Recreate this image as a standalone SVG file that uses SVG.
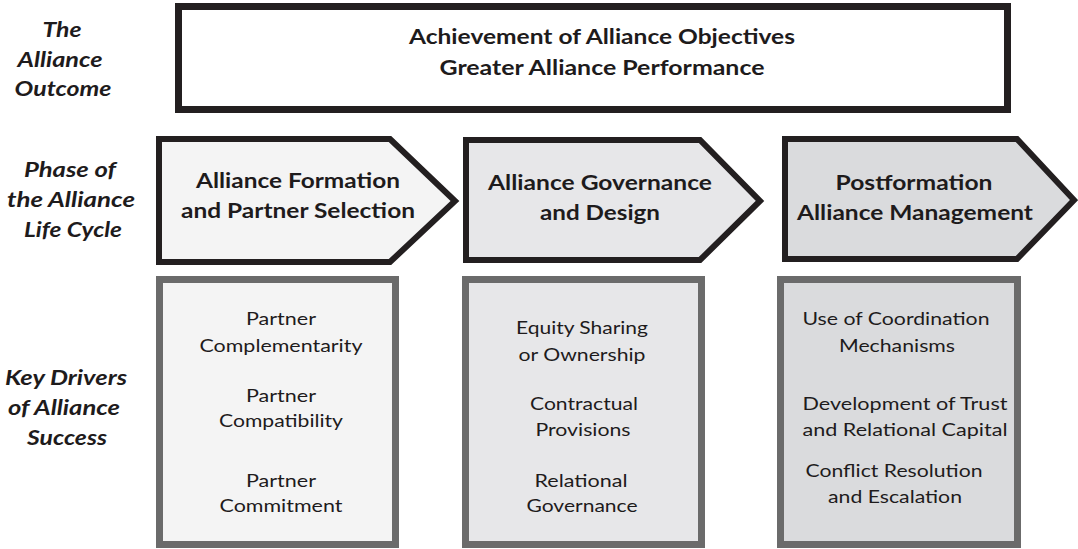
<svg xmlns="http://www.w3.org/2000/svg" width="1078" height="549" viewBox="0 0 1078 549">
<style>
text{font-family:Lato,"Open Sans","Liberation Sans",sans-serif;fill:#1e1b1c;text-anchor:middle}
.lab{font-size:20px;font-weight:bold;font-style:italic}
.head{font-size:20px;font-weight:bold}
.item{font-size:18px}
.outcome{fill:#ffffff;stroke:#231f20;stroke-width:7}
.chev{stroke:#231f20;stroke-width:6;stroke-linejoin:miter}
.drv{stroke:#6b6b6b;stroke-width:7}
</style>
<rect width="1078" height="549" fill="#ffffff"/>
<g id="labels">
<text class="lab" x="62" y="37" textLength="39" lengthAdjust="spacingAndGlyphs">The</text>
<text class="lab" x="60" y="67" textLength="85" lengthAdjust="spacingAndGlyphs">Alliance</text>
<text class="lab" x="63" y="96" textLength="97" lengthAdjust="spacingAndGlyphs">Outcome</text>
<text class="lab" x="70" y="177" textLength="92" lengthAdjust="spacingAndGlyphs">Phase of</text>
<text class="lab" x="71" y="207" textLength="128" lengthAdjust="spacingAndGlyphs">the Alliance</text>
<text class="lab" x="73" y="237" textLength="98" lengthAdjust="spacingAndGlyphs">Life Cycle</text>
<text class="lab" x="66" y="385" textLength="122" lengthAdjust="spacingAndGlyphs">Key Drivers</text>
<text class="lab" x="64" y="415" textLength="112" lengthAdjust="spacingAndGlyphs">of Alliance</text>
<text class="lab" x="67" y="445" textLength="80" lengthAdjust="spacingAndGlyphs">Success</text>
</g>
<g id="outcome">
<rect class="outcome" x="178.5" y="6.5" width="829" height="103"/>
<text class="head" x="602" y="44" textLength="386" lengthAdjust="spacingAndGlyphs">Achievement of Alliance Objectives</text>
<text class="head" x="602" y="75" textLength="325" lengthAdjust="spacingAndGlyphs">Greater Alliance Performance</text>
</g>
<g id="phase-formation">
<path class="chev" fill="#f4f4f4" d="M159,139 H390 L455,201 L390,262 H159 Z"/>
<text class="head" x="298" y="188" textLength="204" lengthAdjust="spacingAndGlyphs">Alliance Formation</text>
<text class="head" x="298" y="218" textLength="234" lengthAdjust="spacingAndGlyphs">and Partner Selection</text>
</g>
<g id="phase-governance">
<path class="chev" fill="#e7e7e9" d="M466,140 H700 L760,201 L700,260 H466 Z"/>
<text class="head" x="600" y="190" textLength="224" lengthAdjust="spacingAndGlyphs">Alliance Governance</text>
<text class="head" x="600" y="220" textLength="120" lengthAdjust="spacingAndGlyphs">and Design</text>
</g>
<g id="phase-postformation">
<path class="chev" fill="#dadbdd" d="M785,139 H1017 L1074,200 L1017,259 H785 Z"/>
<text class="head" x="914" y="190" textLength="157" lengthAdjust="spacingAndGlyphs">Postformation</text>
<text class="head" x="915" y="220" textLength="236" lengthAdjust="spacingAndGlyphs">Alliance Management</text>
</g>
<g id="drivers-formation">
<rect class="drv" fill="#f4f4f4" x="159.5" y="279.5" width="236" height="265"/>
<text class="item" x="281" y="325" textLength="70" lengthAdjust="spacingAndGlyphs">Partner</text>
<text class="item" x="281" y="352" textLength="163" lengthAdjust="spacingAndGlyphs">Complementarity</text>
<text class="item" x="281" y="402" textLength="70" lengthAdjust="spacingAndGlyphs">Partner</text>
<text class="item" x="281" y="427" textLength="124" lengthAdjust="spacingAndGlyphs">Compatibility</text>
<text class="item" x="281" y="487" textLength="70" lengthAdjust="spacingAndGlyphs">Partner</text>
<text class="item" x="281" y="512" textLength="123" lengthAdjust="spacingAndGlyphs">Commitment</text>
</g>
<g id="drivers-governance">
<rect class="drv" fill="#e7e7e9" x="465.5" y="279.5" width="236" height="265"/>
<text class="item" x="582" y="334" textLength="132" lengthAdjust="spacingAndGlyphs">Equity Sharing</text>
<text class="item" x="582" y="361" textLength="127" lengthAdjust="spacingAndGlyphs">or Ownership</text>
<text class="item" x="584" y="410" textLength="108" lengthAdjust="spacingAndGlyphs">Contractual</text>
<text class="item" x="583" y="436" textLength="95" lengthAdjust="spacingAndGlyphs">Provisions</text>
<text class="item" x="581" y="487" textLength="93" lengthAdjust="spacingAndGlyphs">Relational</text>
<text class="item" x="582" y="512" textLength="111" lengthAdjust="spacingAndGlyphs">Governance</text>
</g>
<g id="drivers-postformation">
<rect class="drv" fill="#dadbdd" x="780.5" y="279.5" width="237" height="265"/>
<text class="item" x="896" y="325" textLength="187" lengthAdjust="spacingAndGlyphs">Use of Coordination</text>
<text class="item" x="897" y="352" textLength="116" lengthAdjust="spacingAndGlyphs">Mechanisms</text>
<text class="item" x="905" y="410" textLength="205" lengthAdjust="spacingAndGlyphs">Development of Trust</text>
<text class="item" x="905" y="436" textLength="205" lengthAdjust="spacingAndGlyphs">and Relational Capital</text>
<text class="item" x="894" y="477" textLength="177" lengthAdjust="spacingAndGlyphs">Conflict Resolution</text>
<text class="item" x="895" y="503" textLength="134" lengthAdjust="spacingAndGlyphs">and Escalation</text>
</g>
<g id="connectors"/>
</svg>
